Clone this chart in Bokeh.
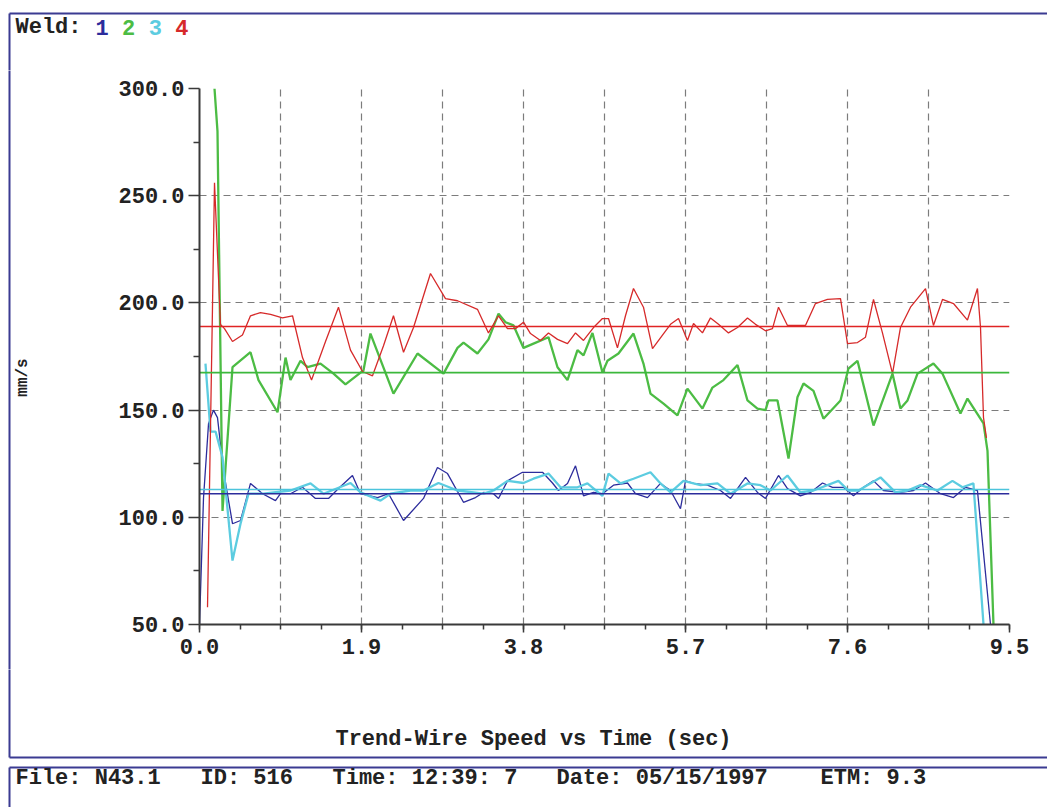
import math
from bokeh.plotting import figure
from bokeh.layouts import column, row
from bokeh.models import FixedTicker, PrintfTickFormatter, Range1d
from bokeh.core.properties import value
from bokeh.embed import file_html
from bokeh.resources import INLINE

# ---------------- data ----------------
# Weld 1 (dark blue)
t1 = [0.0, 0.047, 0.106, 0.164, 0.211, 0.281, 0.387, 0.481, 0.598, 0.739, 0.891, 0.95, 1.067, 1.208,
      1.36, 1.513, 1.63, 1.794, 1.888, 2.088, 2.217, 2.393, 2.627, 2.791, 2.909, 3.096, 3.237, 3.331,
      3.448, 3.507, 3.612, 3.788, 4.023, 4.14, 4.21, 4.316, 4.41, 4.504, 4.621, 4.726, 4.855, 5.02,
      5.113, 5.254, 5.407, 5.524, 5.641, 5.7, 5.794, 5.958, 6.11, 6.228, 6.404, 6.544, 6.638, 6.791,
      6.896, 7.048, 7.166, 7.307, 7.424, 7.553, 7.67, 7.787, 7.905, 8.022, 8.221, 8.374, 8.515, 8.691,
      8.843, 8.984, 9.124, 9.277]
v1 = [50, 109, 143.7, 150, 146.5, 121.8, 97, 98.5, 115.8, 111, 107.8, 111, 111, 114,
      108.8, 108.8, 113.4, 119.5, 111, 109.2, 111, 98.5, 108.8, 123.2, 120.4, 107, 109.2, 111.6,
      111, 108.8, 117, 121, 121, 116, 112.5, 115.8, 124, 110, 111.6, 111, 115, 116,
      111, 109.2, 115.8, 112.5, 104, 117, 115.8, 115, 112.5, 108.8, 118.6, 111.6, 108.8, 119.5,
      113.4, 110, 111.6, 116, 114, 114, 110, 114, 117, 112.5, 111.6, 112.5, 116, 111,
      109.2, 114, 112.5, 50]

# Weld 2 (green)
t2 = [0.176, 0.211, 0.27, 0.387, 0.598, 0.692, 0.915, 1.009, 1.067, 1.185, 1.267, 1.419, 1.572, 1.712,
      1.923, 2.005, 2.275, 2.557, 2.862, 3.026, 3.096, 3.26, 3.389, 3.507, 3.589, 3.683, 3.8, 3.917,
      4.093, 4.199, 4.316, 4.433, 4.504, 4.609, 4.726, 4.785, 4.914, 5.09, 5.207, 5.289, 5.442, 5.606,
      5.723, 5.899, 6.016, 6.145, 6.31, 6.427, 6.544, 6.638, 6.673, 6.779, 6.908, 7.013, 7.084, 7.201,
      7.318, 7.518, 7.611, 7.717, 7.905, 8.128, 8.221, 8.304, 8.421, 8.608, 8.714, 8.925, 9.007, 9.195,
      9.242, 9.312]
v2 = [300, 280, 103, 170, 177, 164, 149, 174.5, 164, 173, 170, 171.7, 167, 162,
      168.5, 185.7, 157.7, 176.4, 167, 179, 181.5, 176.4, 183, 195, 191, 189.5, 179, 181,
      184, 170, 164, 178, 175.5, 186, 167.5, 173, 176.4, 185.7, 171.7, 157.7, 153, 147.5,
      160, 150.7, 160.5, 164, 171, 154.5, 150.7, 150, 154.5, 154.5, 127.4, 156, 162.4, 159,
      146, 154.5, 169.4, 173, 142.8, 167, 150.7, 154.5, 167, 171.7, 167, 148.4, 155.4, 143.8,
      131, 50]

# Weld 3 (cyan)
t3 = [0.07, 0.129, 0.188, 0.27, 0.387, 0.481, 0.575, 0.751, 1.067, 1.302, 1.454, 1.771, 1.888, 2.123,
      2.24, 2.475, 2.627, 2.803, 3.026, 3.331, 3.448, 3.612, 3.8, 3.917, 4.093, 4.234, 4.433, 4.55,
      4.726, 4.797, 4.938, 5.09, 5.289, 5.407, 5.524, 5.676, 5.876, 6.075, 6.228, 6.427, 6.579, 6.697,
      6.896, 7.048, 7.201, 7.494, 7.611, 7.729, 7.987, 8.163, 8.304, 8.456, 8.655, 8.831, 8.949, 9.077,
      9.195]
v3 = [171.7, 140, 140, 128, 79.8, 97, 111, 111, 112.5, 115.8, 111, 116, 111.6, 107.8,
      111, 112.5, 112.5, 116, 112.5, 111, 112.5, 117, 116, 118, 120.4, 114, 114, 115.8,
      110, 120.4, 115.8, 118, 121, 115.8, 111.6, 117, 115, 115.8, 111, 115.8, 115, 112.5,
      119.5, 111.6, 112.5, 117, 112.5, 112.5, 118.6, 111.6, 112.5, 115, 112.5, 117, 114, 115.8,
      50]

# Weld 4 (red)
t4 = [0.094, 0.152, 0.176, 0.246, 0.293, 0.387, 0.504, 0.598, 0.715, 0.833, 0.973, 1.091, 1.208, 1.314,
      1.478, 1.63, 1.771, 1.912, 2.029, 2.158, 2.275, 2.393, 2.51, 2.709, 2.885, 3.026, 3.26, 3.389,
      3.507, 3.612, 3.706, 3.8, 3.882, 3.999, 4.093, 4.199, 4.316, 4.41, 4.504, 4.621, 4.726, 4.797,
      4.902, 4.996, 5.09, 5.207, 5.313, 5.43, 5.524, 5.618, 5.723, 5.794, 5.899, 5.993, 6.087, 6.204,
      6.31, 6.427, 6.521, 6.638, 6.72, 6.791, 6.896, 7.107, 7.224, 7.365, 7.518, 7.6, 7.717, 7.811,
      7.905, 8.01, 8.128, 8.221, 8.339, 8.515, 8.608, 8.714, 8.843, 9.007, 9.124, 9.16, 9.195, 9.23]
v4 = [58, 197, 256, 190, 188, 182, 185, 194, 195.5, 194.6, 193, 194, 174.5, 164,
      182, 198, 178, 168, 166, 180, 194, 177, 188.5, 213.7, 202, 201, 197, 186,
      194, 188, 188, 191, 185.7, 182.5, 186, 183, 181, 186, 182.5, 188.5, 192.7, 192.7,
      179, 194, 206.7, 198, 178.7, 185, 190, 192.7, 182.5, 190.4, 186, 193, 190, 186,
      188.5, 193, 190, 187, 188, 198, 189.5, 189.5, 199.7, 201.6, 202, 181, 181.5, 184,
      201.6, 186, 167, 188.5, 198, 206.7, 189.5, 201.6, 199.7, 192, 206.7, 188.5, 146.5, 137]

# mean (reference) levels for welds 1..4
mean_values = [111, 167.5, 113, 189]

weld_names = ["1", "2", "3", "4"]
weld_colors = ["#2c2c9c", "#4cbc44", "#5ccce0", "#d62a2a"]
mean_colors = ["#2c2c9c", "#3cb83c", "#4cc4dc", "#e02424"]

x_labels = [0.0, 1.9, 3.8, 5.7, 7.6, 9.5]
x_grid = [0.95, 1.9, 2.85, 3.8, 4.75, 5.7, 6.65, 7.6, 8.55]
x_minor = [0.475 * k for k in range(21)]
y_labels = [50, 100, 150, 200, 250, 300]
y_minor = [75, 125, 175, 225, 275]
y_grid = [50, 100, 150, 200, 250]

legend_title = "Weld:"
title_text = "Trend-Wire Speed vs Time (sec)"
y_title = "mm/s"
footer_fields = ["File: N43.1", "ID: 516", "Time: 12:39: 7", "Date: 05/15/1997", "ETM: 9.3"]

# ---------------- layout geometry (page pixels) ----------------
W, H = 1047, 807
FL, FT, FR, FB = 199, 88, 1009, 624    # plot frame edges
HEAD_H = 70                            # header strip height
STRIP_W = 100                          # left strip width
MAIN_BOTTOM = 669                      # bottom of the main figure
MAIN_H = MAIN_BOTTOM - HEAD_H
FOOT_H = H - MAIN_BOTTOM
FONT = "Liberation Mono"
BOX = "#3b3b92"
INK = "#222222"


def no_align(f):
    try:
        f.frame_align = False
    except Exception:
        pass


def deco(w, h):
    d = figure(width=w, height=h, output_backend="svg", toolbar_location=None,
               x_range=Range1d(0, w), y_range=Range1d(0, h),
               x_axis_type=None, y_axis_type=None, min_border=0)
    d.outline_line_color = None
    d.background_fill_color = "white"
    d.border_fill_color = "white"
    no_align(d)
    return d


def txt(d, h, xs, ys, texts, colors=INK, size="22px", align="left", angle=0.0):
    d.text(x=xs, y=[h - y for y in ys], text=texts, text_color=colors,
           text_font=value(FONT), text_font_style="bold", text_font_size=value(size),
           text_align=align, text_baseline="middle", angle=angle)


def seg(d, h, x0, y0, x1, y1):
    d.segment(x0=[x0], y0=[h - y0], x1=[x1], y1=[h - y1], line_color=BOX, line_width=2)


# ---------------- header ----------------
head = deco(W, HEAD_H)
seg(head, HEAD_H, 9, 13, W + 5, 13)
seg(head, HEAD_H, 9, 13, 9, HEAD_H + 2)
txt(head, HEAD_H, [15], [27], [legend_title])
txt(head, HEAD_H, [95 + i * 26.6 for i in range(len(weld_names))], [27] * len(weld_names),
    weld_names, colors=weld_colors)

# ---------------- left strip ----------------
strip = deco(STRIP_W, MAIN_H)
seg(strip, MAIN_H, 9, -2, 9, MAIN_H + 2)
txt(strip, MAIN_H, [22], [377 - HEAD_H], [y_title], size="16px", align="center", angle=math.pi / 2)

# ---------------- main plot ----------------
MW = W - STRIP_W
p = figure(width=MW, height=MAIN_H, output_backend="svg", toolbar_location=None,
           x_range=Range1d(0, 9.5), y_range=Range1d(50, 300),
           min_border_left=FL - STRIP_W, min_border_right=W - FR,
           min_border_top=FT - HEAD_H, min_border_bottom=MAIN_BOTTOM - FB)
p.outline_line_color = None
p.background_fill_color = "white"
p.border_fill_color = "white"
no_align(p)

for ax in (p.xaxis[0], p.yaxis[0]):
    ax.axis_line_color = "#3a3a3a"
    ax.axis_line_width = 2
    ax.major_tick_line_color = "#3a3a3a"
    ax.minor_tick_line_color = "#3a3a3a"
    ax.major_tick_line_width = 1.5
    ax.minor_tick_line_width = 1.5
    ax.major_tick_in = 0
    ax.minor_tick_in = 0
    ax.major_label_text_font = FONT
    ax.major_label_text_font_style = "bold"
    ax.major_label_text_font_size = "22px"
    ax.major_label_text_color = INK
    ax.formatter = PrintfTickFormatter(format="%.1f")

p.xaxis[0].ticker = FixedTicker(ticks=x_labels, minor_ticks=x_minor)
p.xaxis[0].major_tick_out = 8
p.xaxis[0].minor_tick_out = 5
p.xaxis[0].major_label_standoff = 6

p.yaxis[0].ticker = FixedTicker(ticks=y_labels, minor_ticks=y_minor)
p.yaxis[0].major_tick_out = 11
p.yaxis[0].minor_tick_out = 6
p.yaxis[0].major_label_standoff = 4

p.xgrid[0].ticker = FixedTicker(ticks=x_grid)
p.ygrid[0].ticker = FixedTicker(ticks=y_grid)
for g in (p.xgrid[0], p.ygrid[0]):
    g.grid_line_color = "#7c7c7c"
    g.grid_line_dash = "7 5"
    g.grid_line_width = 1.2

series = [(t1, v1, 1.3), (t2, v2, 2.3), (t3, v3, 2.3), (t4, v4, 1.3)]
for (tt, vv, lw), col in zip(series, weld_colors):
    p.line(tt, vv, line_color=col, line_width=lw)

x0, x1 = p.x_range.start, p.x_range.end
for m, col in zip(mean_values, mean_colors):
    p.line([x0, x1], [m, m], line_color=col, line_width=1.6)

# ---------------- footer ----------------
foot = deco(W, FOOT_H)
yb = 757 - MAIN_BOTTOM          # main box bottom edge
yf = 767 - MAIN_BOTTOM          # footer box top edge
seg(foot, FOOT_H, 9, -2, 9, yb)
seg(foot, FOOT_H, 9, yb, W + 5, yb)
seg(foot, FOOT_H, 9, yf, W + 5, yf)
seg(foot, FOOT_H, 9, yf, 9, FOOT_H + 2)
txt(foot, FOOT_H, [533], [739 - MAIN_BOTTOM], [title_text], align="center")
footer_x = [15, 200, 332, 556, 820]
txt(foot, FOOT_H, footer_x, [778 - MAIN_BOTTOM] * len(footer_fields), footer_fields)

layout = column(head, row(strip, p, spacing=0), foot, spacing=0)
open("out.html", "w").write(file_html(layout, INLINE))
